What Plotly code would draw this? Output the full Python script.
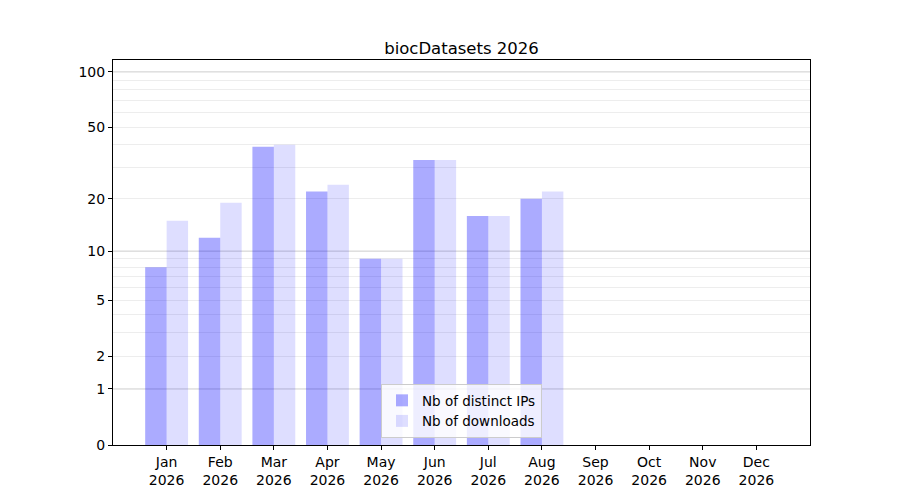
import numpy as np
import plotly.graph_objects as go

months = ["Jan", "Feb", "Mar", "Apr", "May", "Jun", "Jul", "Aug", "Sep", "Oct", "Nov", "Dec"]
year = "2026"
distinct_ips = [8, 12, 39, 22, 9, 33, 16, 20]
downloads = [15, 19, 40, 24, 9, 33, 16, 22]
ytick_values = [0, 1, 2, 5, 10, 20, 50, 100]
major_grid = [1, 10, 100]
minor_grid = [2, 3, 4, 5, 6, 7, 8, 9, 20, 30, 40, 50, 60, 70, 80, 90]


def tr(v):
    # log(1 + x) scale, like the original symlog-ish axis
    return np.log10(1 + np.asarray(v, dtype=float))


x_ips = list(range(len(distinct_ips)))
x_dl = list(range(len(downloads)))

fig = go.Figure()
fig.add_trace(go.Bar(x=x_ips, y=tr(distinct_ips), width=0.4, offset=-0.4,
                     marker=dict(color="rgba(0,0,255,0.33)", line_width=0),
                     name="Nb of distinct IPs"))
fig.add_trace(go.Bar(x=x_dl, y=tr(downloads), width=0.4, offset=0,
                     marker=dict(color="rgba(0,0,255,0.13)", line_width=0),
                     name="Nb of downloads"))

for v in major_grid:
    fig.add_hline(y=float(tr(v)), line=dict(color="rgba(0,0,0,0.2)", width=1), layer="below")

# the page puts the figure 8px in from the top-left corner, so margins make up for it
fig.update_layout(
    width=900, height=500,
    margin=dict(l=105, r=98, t=52, b=63),
    paper_bgcolor="white", plot_bgcolor="white",
    font=dict(family="DejaVu Sans", size=14, color="black"),
    title=dict(text="biocDatasets 2026", x=0.5, xref="paper", xanchor="center",
               y=1, yref="paper", yanchor="bottom", pad=dict(b=6),
               font=dict(size=16.5)),
    barmode="overlay",
    showlegend=True,
    legend=dict(x=0.5, xanchor="center", y=0.018, yanchor="bottom",
                bgcolor="rgba(255,255,255,0.8)", bordercolor="#cccccc", borderwidth=1,
                font=dict(size=13.5), tracegroupgap=0),
)
fig.update_xaxes(
    range=[-1, 12], tickmode="array", tickvals=list(range(12)),
    ticktext=[m + "<br>" + year for m in months],
    showgrid=False, zeroline=False, ticks="outside", ticklen=4, tickcolor="black",
    showline=True, linecolor="black", linewidth=1, mirror=True,
)
fig.update_yaxes(
    range=[0, float(tr(116))], tickmode="array", tickvals=list(tr(ytick_values)),
    ticktext=[str(v) for v in ytick_values],
    showgrid=False, zeroline=False, ticks="outside", ticklen=4, tickcolor="black",
    showline=True, linecolor="black", linewidth=1, mirror=True,
    minor=dict(tickmode="array", tickvals=list(tr(minor_grid)), showgrid=True,
               gridcolor="rgba(0,0,0,0.07)", gridwidth=1, ticks=""),
)

fig.write_html("out.html")
